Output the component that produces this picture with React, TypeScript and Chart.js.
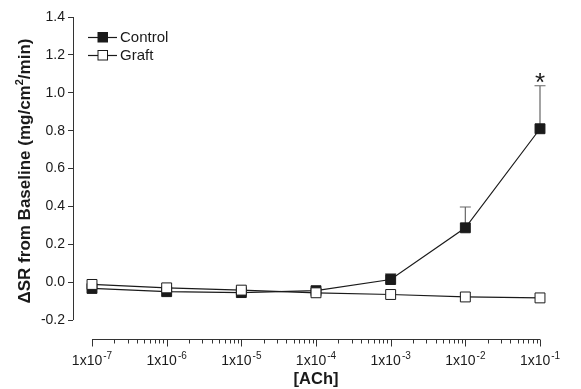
import React, { useEffect, useRef } from 'react';
import { Chart, registerables } from 'chart.js';

Chart.register(...registerables);

// ---- data ----
const concentrations = [1e-7, 1e-6, 1e-5, 1e-4, 1e-3, 1e-2, 1e-1];
const exponentLabels = ['-7', '-6', '-5', '-4', '-3', '-2', '-1'];
const controlValues = [-0.033, -0.05, -0.055, -0.045, 0.014, 0.287, 0.81];
const controlErrors = [0, 0, 0, 0, 0.03, 0.11, 0.227];
const graftValues = [-0.012, -0.03, -0.042, -0.056, -0.065, -0.078, -0.083];
const significance = ['', '', '', '', '', '', '*'];
const yTickValues = [-0.2, 0, 0.2, 0.4, 0.6, 0.8, 1.0, 1.2, 1.4];
const seriesNames = ['Control', 'Graft'];
const xTitle = '[ACh]';
const yTitleParts = ['\u0394SR from Baseline (mg/cm', '2', '/min)'];

const FONT = '"Liberation Sans", Arial, Helvetica, sans-serif';
const INK = '#1a1a1a';
const AXIS = '#333333';

const minorTicks: number[] = [];
for (let e = -7; e <= -2; e++) {
  for (let m = 2; m <= 9; m++) minorTicks.push(m * Math.pow(10, e));
}

const customPlugin = {
  id: 'customDecor',
  beforeDatasetsDraw(chart: any) {
    const ctx = chart.ctx;
    const xs = chart.scales.x;
    const ys = chart.scales.y;
    ctx.save();
    ctx.strokeStyle = '#666666';
    ctx.lineWidth = 1.2;
    concentrations.forEach((c, i) => {
      const err = controlErrors[i];
      if (!err) return;
      const px = xs.getPixelForValue(c);
      const y0 = ys.getPixelForValue(controlValues[i]);
      const y1 = ys.getPixelForValue(controlValues[i] + err);
      ctx.beginPath();
      ctx.moveTo(px, y0);
      ctx.lineTo(px, y1);
      ctx.moveTo(px - 5.5, y1);
      ctx.lineTo(px + 5.5, y1);
      ctx.stroke();
    });
    ctx.restore();
  },
  afterDraw(chart: any) {
    const ctx = chart.ctx;
    const xs = chart.scales.x;
    const ys = chart.scales.y;
    const area = chart.chartArea;
    ctx.save();
    // y axis line
    ctx.strokeStyle = AXIS;
    ctx.lineWidth = 1;
    const yl = Math.round(area.left) + 0.5;
    ctx.beginPath();
    ctx.moveTo(yl, ys.getPixelForValue(yTickValues[0]));
    ctx.lineTo(yl, ys.getPixelForValue(yTickValues[yTickValues.length - 1]));
    ctx.stroke();
    // x axis line and ticks
    const xb = Math.round(area.bottom) + 0.5;
    ctx.beginPath();
    ctx.moveTo(xs.getPixelForValue(concentrations[0]), xb);
    ctx.lineTo(xs.getPixelForValue(concentrations[concentrations.length - 1]), xb);
    concentrations.forEach((c) => {
      const px = Math.round(xs.getPixelForValue(c)) + 0.5;
      ctx.moveTo(px, xb);
      ctx.lineTo(px, xb + 7);
    });
    minorTicks.forEach((c) => {
      const px = Math.round(xs.getPixelForValue(c)) + 0.5;
      ctx.moveTo(px, xb);
      ctx.lineTo(px, xb + 4);
    });
    ctx.stroke();
    // x labels with superscript
    ctx.fillStyle = INK;
    ctx.textBaseline = 'alphabetic';
    ctx.textAlign = 'left';
    concentrations.forEach((c, i) => {
      const px = xs.getPixelForValue(c);
      ctx.font = '14px ' + FONT;
      const base = '1x10';
      const wb = ctx.measureText(base).width;
      ctx.font = '10px ' + FONT;
      const ws = ctx.measureText(exponentLabels[i]).width;
      const start = px - (wb + ws + 1) / 2;
      ctx.font = '14px ' + FONT;
      ctx.fillText(base, start, xb + 25);
      ctx.font = '10px ' + FONT;
      ctx.fillText(exponentLabels[i], start + wb + 1, xb + 19);
    });
    // x title
    ctx.font = 'bold 16.5px ' + FONT;
    ctx.textAlign = 'center';
    ctx.fillText(xTitle, (xs.getPixelForValue(concentrations[0]) + xs.getPixelForValue(concentrations[6])) / 2, 384);
    // y title rotated
    ctx.save();
    ctx.translate(30, 171);
    ctx.rotate(-Math.PI / 2);
    ctx.textAlign = 'left';
    const mainFont = 'bold 17px ' + FONT;
    const supFont = 'bold 11px ' + FONT;
    ctx.font = mainFont;
    const w0 = ctx.measureText(yTitleParts[0]).width;
    const w2 = ctx.measureText(yTitleParts[2]).width;
    ctx.font = supFont;
    const w1 = ctx.measureText(yTitleParts[1]).width;
    let sx = -(w0 + w1 + w2) / 2;
    ctx.font = mainFont;
    ctx.fillText(yTitleParts[0], sx, 0);
    sx += w0;
    ctx.font = supFont;
    ctx.fillText(yTitleParts[1], sx, -7);
    sx += w1;
    ctx.font = mainFont;
    ctx.fillText(yTitleParts[2], sx, 0);
    ctx.restore();
    // significance markers
    ctx.font = '26px ' + FONT;
    ctx.textAlign = 'center';
    concentrations.forEach((c, i) => {
      if (!significance[i]) return;
      const px = xs.getPixelForValue(c);
      const py = ys.getPixelForValue(controlValues[i] + controlErrors[i]);
      ctx.fillText(significance[i], px, py + 5);
    });
    // legend
    const lx = 88;
    const rows = [37, 55];
    rows.forEach((ly, i) => {
      ctx.strokeStyle = INK;
      ctx.lineWidth = 1.2;
      ctx.beginPath();
      ctx.moveTo(lx, ly + 0.5);
      ctx.lineTo(lx + 29, ly + 0.5);
      ctx.stroke();
      ctx.fillStyle = i === 0 ? INK : '#ffffff';
      ctx.fillRect(lx + 10, ly - 4.5, 9.5, 9.5);
      ctx.lineWidth = 1;
      ctx.strokeRect(lx + 10, ly - 4.5, 9.5, 9.5);
      ctx.fillStyle = INK;
      ctx.font = '15px ' + FONT;
      ctx.textAlign = 'left';
      ctx.textBaseline = 'middle';
      ctx.fillText(seriesNames[i], lx + 32, ly + 1);
    });
    ctx.restore();
  },
};

export default function App() {
  const canvasRef = useRef<HTMLCanvasElement | null>(null);

  useEffect(() => {
    if (!canvasRef.current) return;
    const decadePx = 74.67;
    const chart = new Chart(canvasRef.current, {
      type: 'line',
      data: {
        datasets: [
          {
            label: seriesNames[0],
            data: concentrations.map((c, i) => ({ x: c, y: controlValues[i] })),
            borderColor: INK,
            borderWidth: 1.2,
            pointStyle: 'rect',
            pointRadius: 7,
            pointBorderWidth: 1,
            pointBackgroundColor: INK,
            pointBorderColor: INK,
            tension: 0,
            order: 1,
          },
          {
            label: seriesNames[1],
            data: concentrations.map((c, i) => ({ x: c, y: graftValues[i] })),
            borderColor: INK,
            borderWidth: 1.2,
            pointStyle: 'rect',
            pointRadius: 7,
            pointBorderWidth: 1,
            pointBackgroundColor: '#ffffff',
            pointBorderColor: INK,
            tension: 0,
            order: 0,
          },
        ],
      },
      options: {
        animation: false,
        responsive: false,
        maintainAspectRatio: false,
        layout: { padding: { left: 0, right: 31, top: 17, bottom: 0 } },
        plugins: {
          legend: { display: false },
          tooltip: { enabled: false },
        },
        scales: {
          x: {
            type: 'logarithmic',
            min: Math.pow(10, -7 - 19 / decadePx),
            max: Math.pow(10, -1 + 10 / decadePx),
            afterBuildTicks: (scale: any) => {
              scale.ticks = concentrations.map((v) => ({ value: v }));
            },
            afterFit: (scale: any) => {
              scale.height = 50;
            },
            ticks: { display: false },
            grid: { display: false },
            border: { display: false },
          },
          y: {
            type: 'linear',
            min: -0.3,
            max: 1.4,
            afterBuildTicks: (scale: any) => {
              scale.ticks = yTickValues.map((v) => ({ value: v }));
            },
            afterFit: (scale: any) => {
              scale.width = 73;
            },
            ticks: {
              font: { family: FONT, size: 14 },
              color: INK,
              padding: 3,
              callback: (v: any) => Number(v).toFixed(1),
            },
            grid: {
              drawOnChartArea: false,
              drawTicks: true,
              tickLength: 5,
              color: AXIS,
            },
            border: { display: false },
          },
        },
      },
      plugins: [customPlugin],
    });
    return () => chart.destroy();
  }, []);

  return (
    <div style={{ position: 'fixed', left: 0, top: 0, width: 581, height: 389, background: '#fff' }}>
      <canvas ref={canvasRef} width={581} height={389} style={{ width: 581, height: 389, display: 'block' }} />
    </div>
  );
}
